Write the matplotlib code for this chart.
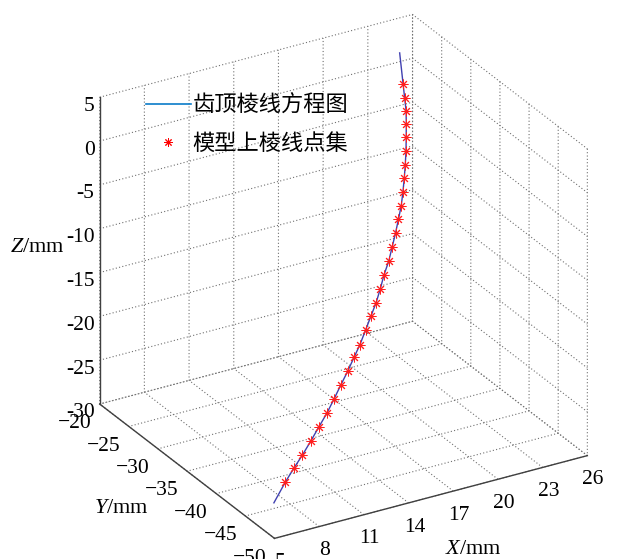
import numpy as np
import matplotlib
matplotlib.use('Agg')
import matplotlib.pyplot as plt
from matplotlib.lines import Line2D

# marker points (x, y, z in mm)
xm = [22.34, 22.12, 21.96, 21.74, 21.44, 21.13, 20.80, 20.52, 20.15, 19.81,
      19.40, 18.96, 18.50, 18.03, 17.50, 17.02, 16.51, 16.03, 15.46, 14.82,
      14.29, 13.67, 13.03, 12.40, 11.75, 11.05, 10.36, 9.64, 8.99, 8.26]
ym = [-27.73, -28.56, -29.22, -29.82, -30.57, -31.33, -32.04, -32.59, -33.30, -33.89,
      -34.46, -35.08, -35.68, -36.30, -36.84, -37.43, -38.01, -38.38, -38.91, -39.57,
      -39.89, -40.38, -40.82, -41.28, -41.73, -42.13, -42.53, -42.93, -43.15, -43.54]
zm = [2.70, 1.63, 0.56, -0.51, -1.58, -2.65, -3.72, -4.79, -5.86, -6.93,
      -8.00, -9.07, -10.14, -11.21, -12.28, -13.35, -14.42, -15.49, -16.56, -17.63,
      -18.70, -19.77, -20.84, -21.91, -22.98, -24.05, -25.12, -26.19, -27.26, -28.33]

# curve ends
x_top, y_top, z_top = 22.86, -25.82, 5.0
x_bot, y_bot, z_bot = 7.28, -44.07, -30.0

xticks = [5, 8, 11, 14, 17, 20, 23, 26]
yticks = [-20, -25, -30, -35, -40, -45, -50]
zticks = [5, 0, -5, -10, -15, -20, -25, -30]

plt.rcParams['font.family'] = ['Liberation Serif', 'Noto Sans CJK SC']
plt.rcParams['mathtext.fontset'] = 'custom'
plt.rcParams['mathtext.it'] = 'Liberation Serif:italic'
plt.rcParams['mathtext.rm'] = 'Liberation Serif'
plt.rcParams['grid.color'] = '#707070'
plt.rcParams['grid.linestyle'] = (0, (1, 2))
plt.rcParams['grid.linewidth'] = 0.8

fig = plt.figure(figsize=(6.21, 5.59), dpi=100)
ax = fig.add_axes([0.041, -0.008, 1, 1], projection='3d', proj_type='ortho')
ax.view_init(elev=26.8, azim=-120.4)
ax.set_box_aspect((1.05, 1.0, 0.995), zoom=1.055)

xl = [x_top] + xm + [x_bot]
yl = [y_top] + ym + [y_bot]
zl = [z_top] + zm + [z_bot]
ax.plot(xl, yl, zl, color='#4040b0', lw=1)
ax.plot(xm, ym, zm, ls='none', marker=(8, 2, 0), color='#ff2020', ms=7, mew=0.7)

ax.set_xlim(5, 26)
ax.set_ylim(-50, -20)
ax.set_zlim(-30, 5)
ax.set_xticks(xticks)
ax.set_yticks(yticks)
ax.set_zticks(zticks)
ax.set_xticklabels([str(t) for t in xticks], fontsize=15.5)
ax.set_yticklabels([str(t).replace('-', '\u2212') for t in yticks], fontsize=15.5, ha='right')
ax.set_zticklabels([str(t) for t in zticks], fontsize=15.5, ha='right')
ax.tick_params(axis='x', pad=-1)
ax.tick_params(axis='y', pad=-2.5)
ax.tick_params(axis='z', pad=-5.8)

for axis in (ax.xaxis, ax.yaxis, ax.zaxis):
    axis.set_pane_color((1, 1, 1, 1))
    axis.pane.set_edgecolor('none')
    axis.line.set_color('#404040')
    axis.line.set_linewidth(1)
    axis._axinfo['tick']['inward_factor'] = 0.0
    axis._axinfo['tick']['outward_factor'] = 0.0

fig.text(0.061, 0.557, '$Z$/mm', fontsize=16, ha='center', va='center')
fig.text(0.195, 0.091, '$Y$/mm', fontsize=16, ha='center', va='center')
fig.text(0.762, 0.017, '$X$/mm', fontsize=16, ha='center', va='center')

handles = [Line2D([], [], color='#0a7cc8', lw=1.2),
           Line2D([], [], ls='none', marker=(8, 2, 0), color='red', ms=6, mew=0.7)]
ax.legend(handles, ['齿顶棱线方程图', '模型上棱线点集'], loc='upper left',
          bbox_to_anchor=(0.203, 0.8655), bbox_transform=fig.transFigure,
          frameon=False, fontsize=16, handlelength=2.0, handletextpad=0.1,
          labelspacing=0.78)

fig.savefig('out.png', dpi=100)
